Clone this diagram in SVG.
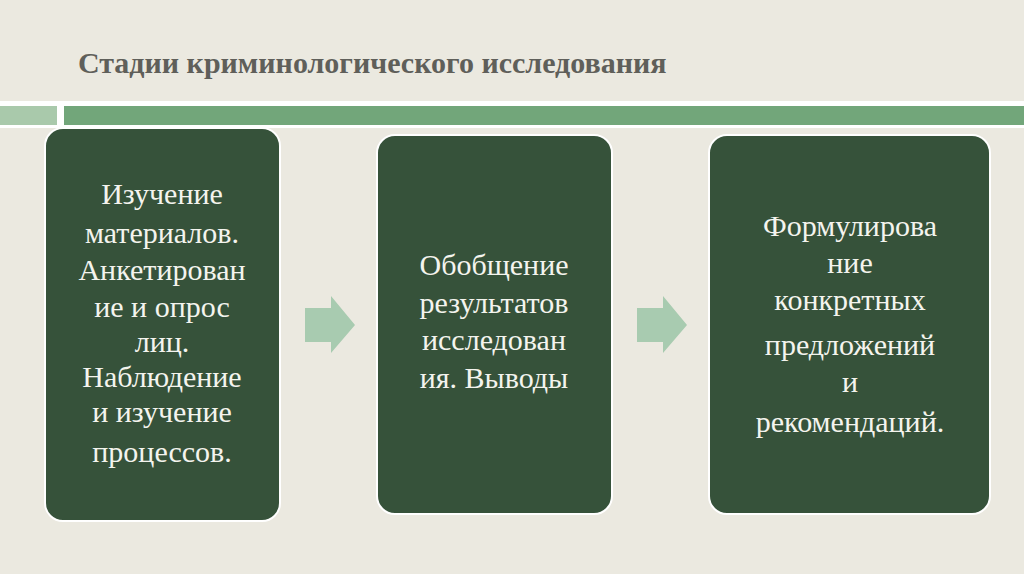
<svg xmlns="http://www.w3.org/2000/svg" width="1024" height="574" viewBox="0 0 1024 574">
<style>
.box{fill:#36523a;stroke:#fff;stroke-width:2}
.t{font-family:"Liberation Serif",serif;font-size:30px;fill:#f4f4ee;text-anchor:middle}
.ar{fill:#a8cbb0}
</style>
<rect width="1024" height="574" fill="#ebe9e0"/>
<rect y="101" width="1024" height="27" fill="#fff"/>
<rect x="0" y="106" width="57" height="19" fill="#a9c9ab"/>
<rect x="64" y="106" width="960" height="19" fill="#72a67a"/>
<text x="78" y="73" font-family="Liberation Serif,serif" font-size="30" font-weight="bold" fill="#5f5f5a">Стадии криминологического исследования</text>
<g id="n1"><rect class="box" x="45" y="128" width="235" height="393" rx="18"/>
<text class="t"><tspan x="162" y="204">Изучение</tspan><tspan x="162" y="243">материалов.</tspan><tspan x="162" y="280">Анкетирован</tspan><tspan x="162" y="317">ие и опрос</tspan><tspan x="162" y="352">лиц.</tspan><tspan x="162" y="387">Наблюдение</tspan><tspan x="162" y="422">и изучение</tspan><tspan x="162" y="462">процессов.</tspan></text></g>
<g id="n2"><rect class="box" x="377" y="135" width="235" height="379" rx="18"/>
<text class="t"><tspan x="494" y="275">Обобщение</tspan><tspan x="494" y="313">результатов</tspan><tspan x="494" y="350">исследован</tspan><tspan x="494" y="388">ия. Выводы</tspan></text></g>
<g id="n3"><rect class="box" x="709" y="135" width="281" height="379" rx="18"/>
<text class="t"><tspan x="850" y="236">Формулирова</tspan><tspan x="850" y="273">ние</tspan><tspan x="850" y="310">конкретных</tspan><tspan x="850" y="355">предложений</tspan><tspan x="850" y="392">и</tspan><tspan x="850" y="432">рекомендаций.</tspan></text></g>
<g id="connectors">
<polygon class="ar" points="305,308 331,308 331,296 355,325 331,353 331,342 305,342"/>
<polygon class="ar" points="637,308 663,308 663,296 687,325 663,353 663,342 637,342"/>
</g>
</svg>
